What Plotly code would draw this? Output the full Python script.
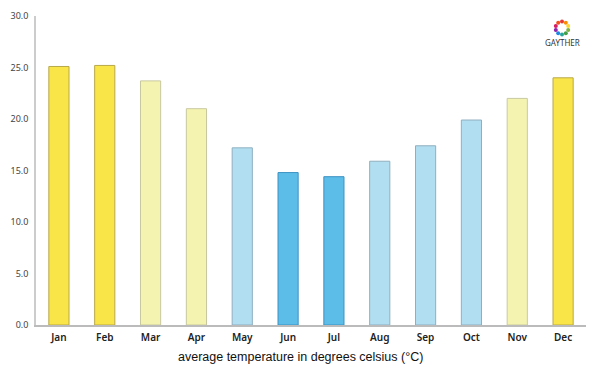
import plotly.graph_objects as go
import math

months = ["Jan", "Feb", "Mar", "Apr", "May", "Jun", "Jul", "Aug", "Sep", "Oct", "Nov", "Dec"]
temps = [25.1, 25.2, 23.7, 21.0, 17.2, 14.8, 14.4, 15.9, 17.4, 19.9, 22.0, 24.0]
fill_colors = ["#F9E547", "#F9E547", "#F4F4B0", "#F4F4B0", "#B2DEF1", "#5BBDE8",
               "#5BBDE8", "#B2DEF1", "#B2DEF1", "#B2DEF1", "#F4F4B0", "#F9E547"]
line_colors = ["#B8A84A", "#B8A84A", "#C8C8A0", "#C8C8A0", "#8FAFC0", "#3D93C4",
               "#3D93C4", "#8FAFC0", "#8FAFC0", "#8FAFC0", "#C8C8A0", "#B8A84A"]

# page has an 8px body margin, so the figure is 592x367 starting at (8, 8)
W, H = 592, 367
L, R, T, B = 28, 14, 8, 50
PW, PH = W - L - R, H - T - B

fig = go.Figure(go.Bar(
    x=months, y=temps,
    marker=dict(color=fill_colors, line=dict(color=line_colors, width=1)),
))

fig.update_layout(
    width=W, height=H,
    margin=dict(l=L, r=R, t=T, b=B, autoexpand=False),
    paper_bgcolor="white", plot_bgcolor="white",
    bargap=0.56,
    showlegend=False,
    font=dict(family="Noto Sans, sans-serif", color="#333"),
    xaxis=dict(
        automargin=False,
        showline=True, linecolor="#BBBBBB", linewidth=1.5,
        ticks="", tickfont=dict(size=10, color="#222", family="Noto Sans", weight=600),
        ticklabelstandoff=2,
        showgrid=False,
    ),
    yaxis=dict(
        automargin=False,
        range=[0, 30], tickvals=[0, 5, 10, 15, 20, 25, 30], tickformat=".1f",
        showline=True, linecolor="#CCCCCC", linewidth=1.5,
        showgrid=False, zeroline=False, ticks="",
        tickfont=dict(size=9, color="#444", family="Noto Sans"),
        ticklabelstandoff=4,
    ),
)

def px_to_paper(sx, sy):
    # screen coords (in the 600x375 shot) -> paper coords
    return (sx - 8 - L) / PW, (H - B - (sy - 8)) / PH

ax_, ay_ = px_to_paper(300, 357)
fig.add_annotation(text="average temperature in degrees celsius (°C)",
                   xref="paper", yref="paper", x=ax_, y=ay_,
                   showarrow=False, xanchor="center", yanchor="middle",
                   font=dict(size=12.5, family="Liberation Sans, Arial", color="#111"))

# GAYTHER logo: ring of colored dots + text
logo_colors = ["#E53935", "#FB8C00", "#FDD835", "#7CB342", "#43A047", "#26A69A",
               "#1E88E5", "#8E24AA", "#D81B60", "#F4511E"]
cx, cy, r = 562, 28, 6.5
shapes = []
for i, c in enumerate(logo_colors):
    a = 2 * math.pi * i / len(logo_colors)
    sx = cx + r * math.sin(a)
    sy = cy - r * math.cos(a)
    x0, y0 = px_to_paper(sx - 2, sy + 2)
    x1, y1 = px_to_paper(sx + 2, sy - 2)
    shapes.append(dict(type="circle", xref="paper", yref="paper",
                       x0=x0, x1=x1, y0=y0, y1=y1,
                       fillcolor=c, line=dict(width=0)))
fig.update_layout(shapes=shapes)
tx, ty = px_to_paper(562, 42)
fig.add_annotation(text="GAYTHER", xref="paper", yref="paper",
                   x=tx, y=ty, showarrow=False,
                   font=dict(size=8, color="#333", family="Noto Sans"),
                   xanchor="center", yanchor="middle")

fig.write_html("out.html")
